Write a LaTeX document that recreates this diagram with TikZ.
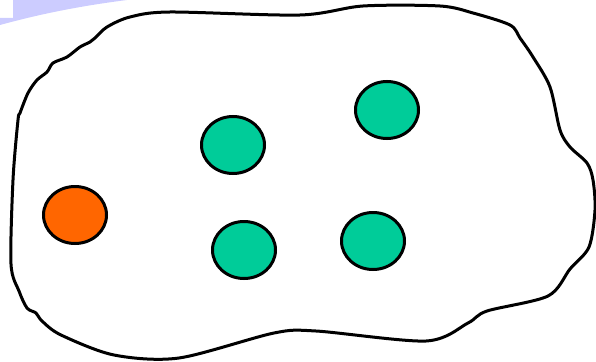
\documentclass[tikz,border=0pt]{standalone}
\usetikzlibrary{shapes.geometric}
\definecolor{lav}{HTML}{CCCCFF}
\definecolor{ballgreen}{HTML}{00CC99}
\definecolor{ballorange}{HTML}{FF6600}
\tikzset{
  ball/.style={ellipse, draw=black, line width=3pt, minimum width=63pt, minimum height=57pt, inner sep=0pt},
  greenball/.style={ball, fill=ballgreen},
  orangeball/.style={ball, fill=ballorange},
  blob/.style={draw=black, line width=3pt, line join=round}
}
\begin{document}
\begin{tikzpicture}[x=1pt,y=-1pt]
\useasboundingbox (0,0) rectangle (596,361);
\fill[lav] (13,0) -- (127,0) .. controls (80,6) and (40,14) .. (0,25) -- (0,18) -- (13,18) -- cycle;
\draw[blob] plot[smooth cycle, tension=0.5] coordinates {
(170,12) (300,15) (363,6) (440,6) (473,13) (510,25) (520,38) (533,57) (550,87) (560,130) (570,147) (587,163) (593,180) (595,210) (589,247) (570,269) (548,296) (487,311) (468,323) (426,341) (316,331) (274,333) (179,358) (114,355) (61,335) (42,321) (36,313) (27,308) (19,291) (11,264) (13,180) (18,120) (20,113) (28,93) (37,80) (47,72) (53,63) (67,57) (80,47) (90,42) (95,38) (107,27) (130,17)};
\node[greenball] (g1) at (233,145) {};
\node[greenball] (g2) at (387,110) {};
\node[greenball] (g3) at (244,250) {};
\node[greenball] (g4) at (373,241) {};
\node[orangeball] (o1) at (75,215) {};
\end{tikzpicture}
\end{document}
